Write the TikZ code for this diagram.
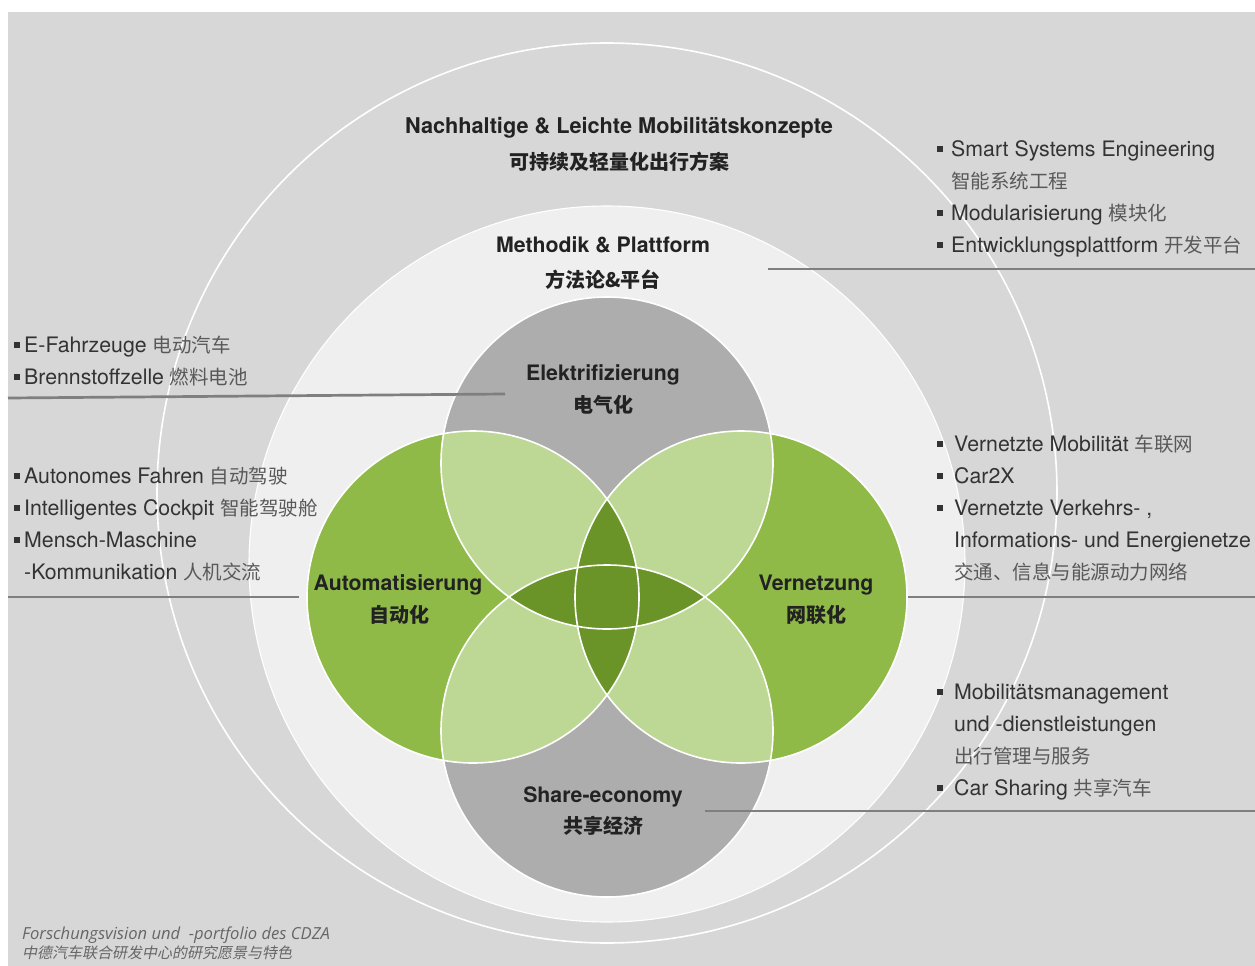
\documentclass[tikz,border=0pt]{standalone}
\usepackage{fontspec}
\setmainfont{TeX Gyre Heros}
\newfontfamily\cjk{Noto Sans CJK SC}
\newfontfamily\footlat{Open Sans}
\newfontfamily\footcjk[FakeSlant=0.2]{Noto Sans CJK SC}
\definecolor{bgc}{HTML}{D7D7D7}
\definecolor{lightc}{HTML}{EFEFEF}
\definecolor{grayc}{HTML}{ADADAD}
\definecolor{greenc}{HTML}{8FBA47}
\definecolor{lgreenc}{HTML}{BDD894}
\definecolor{dgreenc}{HTML}{6A9427}
\definecolor{connc}{HTML}{7F7F7F}
\definecolor{txtc}{HTML}{333333}
\definecolor{titlec}{HTML}{222222}
\definecolor{zhc}{HTML}{595959}
\definecolor{footc}{HTML}{666666}
\newcommand\zh[1]{{\cjk\fontsize{19.5}{24}\selectfont\color{zhc}#1}}
\newcommand\bul{\rule[4.5pt]{6pt}{6pt}}
\tikzset{
  titletxt/.style={font=\fontsize{21.3}{24}\selectfont\bfseries, text=titlec, anchor=base, inner sep=0pt},
  zhtitle/.style={font=\fontsize{20}{24}\selectfont\cjk\bfseries, text=titlec, anchor=base, inner sep=0pt},
  itemtxt/.style={font=\fontsize{21.3}{24}\selectfont, text=txtc, anchor=base west, inner sep=0pt},
  conn/.style={draw=connc, line width=2.7pt},
  venline/.style={draw=white, line width=1.6pt},
  foottxt/.style={text=footc, anchor=base west, inner sep=0pt},
}
\def\cT{(607,463) circle[radius=166]}
\def\cB{(607,731) circle[radius=166]}
\def\cL{(473,597) circle[radius=166]}
\def\cR{(741,597) circle[radius=166]}
\begin{document}
\begin{tikzpicture}[x=1pt,y=-1pt]
\useasboundingbox (0,0) rectangle (1255,966);
\fill[white] (0,0) rectangle (1255,966);
\fill[bgc] (8,12) rectangle (1255,966);
% outer ring line
\draw[white, line width=1.6pt] (607,493) circle[radius=450];
% light circle
\fill[lightc] (607,564) circle[radius=358];
\draw[white, line width=1.1pt] (607,564) circle[radius=358];
% venn base
\fill[grayc] \cT;
\fill[grayc] \cB;
\fill[greenc] \cL;
\fill[greenc] \cR;
% light green petals
\begin{scope}
  \clip \cL;
  \fill[lgreenc] \cT;
  \fill[lgreenc] \cB;
\end{scope}
\begin{scope}
  \clip \cR;
  \fill[lgreenc] \cT;
  \fill[lgreenc] \cB;
\end{scope}
% dark green centre
\begin{scope}
  \clip \cL;
  \fill[dgreenc] \cR;
\end{scope}
\begin{scope}
  \clip \cT;
  \fill[dgreenc] \cB;
\end{scope}
% outlines
\draw[venline] \cT;
\draw[venline] \cB;
\draw[venline] \cL;
\draw[venline] \cR;
% connectors
\coordinate (cMa) at (768,269); \coordinate (cMb) at (1255,269);
\coordinate (cEa) at (505,394); \coordinate (cEb) at (8,398);
\coordinate (cAa) at (299,597); \coordinate (cAb) at (8,597);
\coordinate (cVa) at (908,597); \coordinate (cVb) at (1255,597);
\coordinate (cSa) at (705,811); \coordinate (cSb) at (1255,811);
\draw[conn] (cMa) -- (cMb);
\draw[conn] (cEa) -- (cEb);
\draw[conn] (cAa) -- (cAb);
\draw[conn] (cVa) -- (cVb);
\draw[conn] (cSa) -- (cSb);
% titles
\node[titletxt, font=\fontsize{21.7}{24}\selectfont\bfseries] (t1) at (619,133) {Nachhaltige \& Leichte Mobilitätskonzepte};
\node[zhtitle] (t1z) at (619,169) {可持续及轻量化出行方案};
\node[titletxt] (t2) at (603,252) {Methodik \& Plattform};
\node[zhtitle] (t2z) at (603,287) {方法论\&平台};
\node[titletxt] (t3) at (603,380) {Elektrifizierung};
\node[zhtitle] (t3z) at (603,412) {电气化};
\node[titletxt] (t4) at (398,590) {Automatisierung};
\node[zhtitle] (t4z) at (399,622) {自动化};
\node[titletxt] (t5) at (816,590) {Vernetzung};
\node[zhtitle] (t5z) at (816,622) {网联化};
\node[titletxt] (t6) at (603,802) {Share-economy};
\node[zhtitle] (t6z) at (603,833) {共享经济};
% top-right list
\node[itemtxt] (tr1) at (937,156) {\bul\hspace{8pt}Smart Systems Engineering};
\node[itemtxt] (tr2) at (951,188) {\zh{智能系统工程}};
\node[itemtxt] (tr3) at (937,220) {\bul\hspace{8pt}Modularisierung \zh{模块化}};
\node[itemtxt] (tr4) at (937,252) {\bul\hspace{8pt}Entwicklungsplattform \zh{开发平台}};
% left lists
\node[itemtxt] (l1) at (14,352) {\bul\hspace{4pt}E-Fahrzeuge \zh{电动汽车}};
\node[itemtxt] (l2) at (14,384) {\bul\hspace{4pt}Brennstoffzelle \zh{燃料电池}};
\node[itemtxt] (l3) at (14,483) {\bul\hspace{4pt}Autonomes Fahren \zh{自动驾驶}};
\node[itemtxt] (l4) at (14,515) {\bul\hspace{4pt}Intelligentes Cockpit \zh{智能驾驶舱}};
\node[itemtxt] (l5) at (14,547) {\bul\hspace{4pt}Mensch-Maschine};
\node[itemtxt] (l6) at (24,579) {-Kommunikation \zh{人机交流}};
% right middle list
\node[itemtxt] (r1) at (937,451) {\bul\hspace{11pt}Vernetzte Mobilität \zh{车联网}};
\node[itemtxt] (r2) at (937,483) {\bul\hspace{11pt}Car2X};
\node[itemtxt] (r3) at (937,515) {\bul\hspace{11pt}Vernetzte Verkehrs- ,};
\node[itemtxt] (r4) at (954,547) {Informations- und Energienetze};
\node[itemtxt] (r5) at (954,579) {\zh{交通、信息与能源动力网络}};
% right bottom list
\node[itemtxt] (b1) at (937,699) {\bul\hspace{11pt}Mobilitätsmanagement};
\node[itemtxt] (b2) at (954,731) {und -dienstleistungen};
\node[itemtxt] (b3) at (954,763) {\zh{出行管理与服务}};
\node[itemtxt] (b4) at (937,795) {\bul\hspace{11pt}Car Sharing \zh{共享汽车}};
% footer
\node[foottxt, font=\footlat\itshape\fontsize{16.6}{18}\selectfont] (f1) at (22,939) {Forschungsvision und\ \ -portfolio des CDZA};
\node[foottxt, font=\footcjk\fontsize{15}{18}\selectfont] (f2) at (22,958) {中德汽车联合研发中心的研究愿景与特色};
\end{tikzpicture}
\end{document}
